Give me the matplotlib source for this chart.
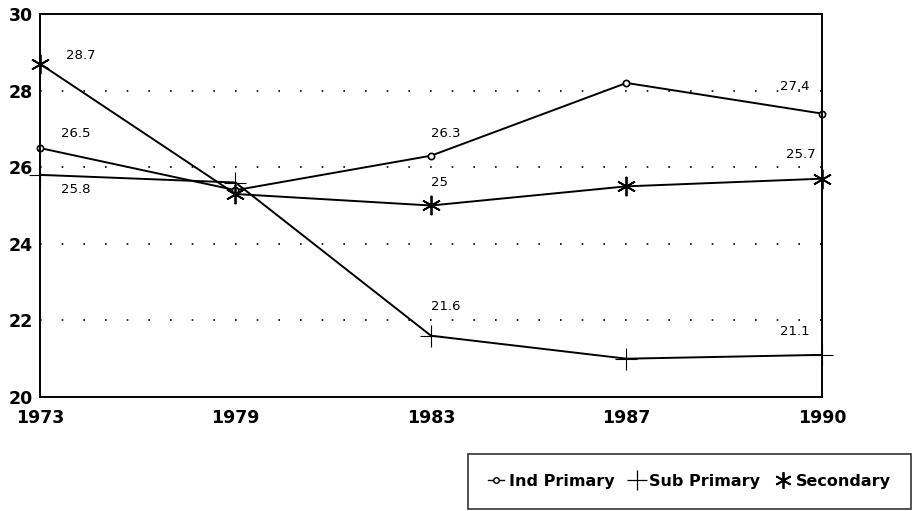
import numpy as np
import matplotlib.pyplot as plt
from matplotlib.lines import Line2D

years = ['1973', '1979', '1983', '1987', '1990']
ind_primary = [26.5, 25.4, 26.3, 28.2, 27.4]
sub_primary = [25.8, 25.6, 21.6, 21.0, 21.1]
secondary = [28.7, 25.3, 25.0, 25.5, 25.7]
yticks = [20, 22, 24, 26, 28, 30]

plt.rcParams['font.family'] = ['DejaVu Sans']

fig = plt.figure(figsize=(9.13, 5.11), dpi=100)
ax = fig.add_axes([0.0438, 0.2231, 0.8565, 0.7495])

x = np.arange(len(years))

for g in [22, 24, 26, 28]:
    ax.axhline(g, color='black', linestyle=(0, (1, 12)), linewidth=1.2, zorder=0)

ax.plot(x, ind_primary, color='black', lw=1.4, marker='o', ms=4.5,
        mfc='white', mec='black', mew=1.2, clip_on=False)
ax.plot(x, sub_primary, color='black', lw=1.4, marker='+', ms=16, mew=0.8,
        clip_on=False)
ax.plot(x, secondary, color='black', lw=1.4, marker=(6, 2, 0), ms=14, mew=1.3,
        clip_on=False)

# data labels (offsets in points)
labels = [
    (0, secondary[0], '28.7', 19, 1),
    (0, ind_primary[0], '26.5', 15, 6),
    (0, sub_primary[0], '25.8', 15, -15),
    (2, ind_primary[2], '26.3', 0, 11),
    (2, secondary[2], '25', 0, 12),
    (2, sub_primary[2], '21.6', 0, 16),
    (4, ind_primary[4], '27.4', -30, 15),
    (4, secondary[4], '25.7', -26, 13),
    (4, sub_primary[4], '21.1', -30, 12),
]
for xi, yi, txt, dx, dy in labels:
    ax.annotate(txt, (xi, yi), xytext=(dx, dy), textcoords='offset points',
                fontsize=9.5, ha='left', va='bottom')

ax.set_xlim(0, len(years) - 1)
ax.set_ylim(20, 30)
ax.set_xticks(x)
ax.set_xticklabels(years)
ax.set_yticks(yticks)
ax.tick_params(length=0, labelsize=12.5)
ax.tick_params(axis='x', pad=9)
ax.tick_params(axis='y', pad=5)
for lab in ax.get_xticklabels() + ax.get_yticklabels():
    lab.set_fontweight('bold')
for sp in ax.spines.values():
    sp.set_linewidth(1.4)

handles = [
    Line2D([], [], color='black', lw=1.0, marker='o', ms=4, mfc='white', mew=1.0),
    Line2D([], [], color='black', lw=0, marker='+', ms=15, mew=0.9),
    Line2D([], [], color='black', lw=0, marker=(6, 2, 0), ms=12, mew=1.3),
]
leg = fig.legend(handles, ['Ind Primary', 'Sub Primary', 'Secondary'],
                 loc='upper left', bbox_to_anchor=(468 / 913, 1 - 454 / 511),
                 ncol=3, frameon=True, fancybox=False,
                 edgecolor='black', handlelength=1.0, handletextpad=0.3,
                 columnspacing=0.9, borderpad=1.25, borderaxespad=0,
                 prop={'size': 11.5, 'weight': 'bold'})
leg.get_frame().set_linewidth(1.2)

fig.savefig('out.png', dpi=100)
